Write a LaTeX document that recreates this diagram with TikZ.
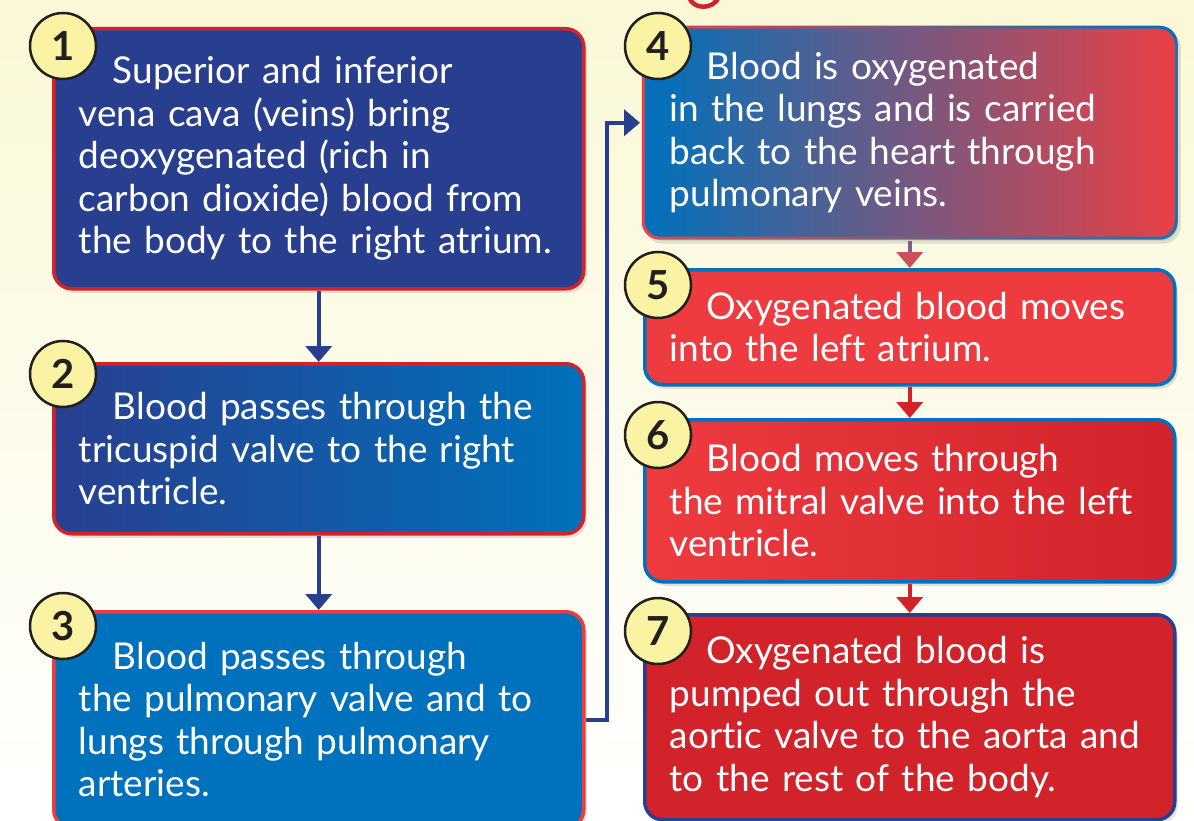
\documentclass[tikz,border=0pt]{standalone}
\usepackage{fontspec}
\setmainfont{Lato}[Ligatures=NoCommon]
\usetikzlibrary{arrows.meta,shadows}
\definecolor{navy}{HTML}{283F8F}
\definecolor{deepblue}{HTML}{0071BC}
\definecolor{darkred}{HTML}{D2232A}
\definecolor{brightred}{HTML}{EE3B40}
\definecolor{pinkred}{HTML}{EA4045}
\definecolor{ballyellow}{HTML}{F9F3A3}
\definecolor{bgtop}{HTML}{FAF8D6}
\definecolor{numgray}{HTML}{231F20}
\definecolor{mauve}{HTML}{7D6088}
\definecolor{headred}{HTML}{CC4F5B}

\begin{document}
\begin{tikzpicture}[x=1pt, y=-1pt,
  stepbox/.style={rounded corners=18pt, line width=3.5pt, minimum width=530pt,
    anchor=north west, text width=480pt, inner xsep=25pt, inner ysep=0pt,
    align=left, text=white, font=\fontsize{37}{42.5}\selectfont,
    drop shadow={opacity=0.22, shadow xshift=3pt, shadow yshift=-4pt}},
  numball/.style={circle, draw=numgray, line width=2.5pt, fill=ballyellow,
    minimum size=66pt, inner sep=0pt, text=numgray,
    font=\fontsize{40}{40}\selectfont\bfseries},
  flow/.style={line width=4pt, -{Triangle[width=26pt,length=16pt]}}]

  \useasboundingbox (0,0) rectangle (1194,821);
  \clip (0,0) rectangle (1194,821);
  \shade[top color=bgtop, bottom color=white] (0,0) rectangle (1194,821);

  % bit of a red letter at the top edge
  \draw[darkred, line width=4.5pt] (689,-3) .. controls (693,10) and (713,10) .. (719,-3);

  % left column
  \node[stepbox, fill=navy, draw=darkred, minimum height=260pt] (s1) at (52,27)
    {\hspace*{34pt}Superior and inferior\\ vena cava (veins) bring\\ deoxygenated (rich in\\
     carbon dioxide) blood from\\ the body to the right atrium.};
  \node[stepbox, left color=navy, right color=deepblue, draw=darkred, minimum height=170pt] (s2) at (52,362)
    {\hspace*{34pt}Blood passes through the\\ tricuspid valve to the right\\ ventricle.};
  \node[stepbox, fill=deepblue, draw=brightred, minimum height=216pt] (s3) at (52,610)
    {\hspace*{34pt}Blood passes through\\ the pulmonary valve and to\\ lungs through pulmonary\\ arteries.};

  % right column
  \node[stepbox, left color=pinkred, right color=deepblue, minimum height=214pt, minimum width=536pt] (r4) at (640,24) {};
  \node[stepbox, left color=deepblue, right color=pinkred, draw=none, drop shadow={opacity=0},
    rounded corners=16pt, minimum height=208pt] (s4) at (643,27)
    {\hspace*{37pt}Blood is oxygenated\\ in the lungs and is carried\\ back to the heart through\\ pulmonary veins.};
  \node[stepbox, fill=brightred, draw=deepblue, minimum height=115pt] (s5) at (643,268)
    {\hspace*{37pt}Oxygenated blood moves\\ into the left atrium.};
  \node[stepbox, left color=brightred, right color=darkred, draw=deepblue, minimum height=162pt] (s6) at (643,418)
    {\hspace*{37pt}Blood moves through\\ the mitral valve into the left\\ ventricle.};
  \node[stepbox, fill=darkred, draw=navy, minimum height=205pt] (s7) at (643,613)
    {\hspace*{37pt}Oxygenated blood is\\ pumped out through the\\ aortic valve to the aorta and\\ to the rest of the body.};

  % numbers
  \node[numball] (n1) at (63,46) {1};
  \node[numball] (n2) at (63,374) {2};
  \node[numball] (n3) at (63,626) {3};
  \node[numball] (n4) at (658,46) {4};
  \node[numball] (n5) at (658,285) {5};
  \node[numball] (n6) at (658,435) {6};
  \node[numball] (n7) at (658,631) {7};

  % connectors
  \coordinate (bend) at (607,0);
  \draw[flow, navy] (s1.south) -- (s2.north);
  \draw[flow, navy] (s2.south) -- (s3.north);
  \draw[flow, navy] (s3.east) -- (s3.east -| bend) |- ([yshift=10pt]r4.west);
  \draw[line width=4pt, mauve, -{Triangle[width=26pt,length=16pt,color=headred]}] (r4.south) -- (s5.north);
  \draw[flow, darkred] (s5.south) -- (s6.north);
  \draw[flow, darkred] (s6.south) -- (s7.north);
\end{tikzpicture}
\end{document}
